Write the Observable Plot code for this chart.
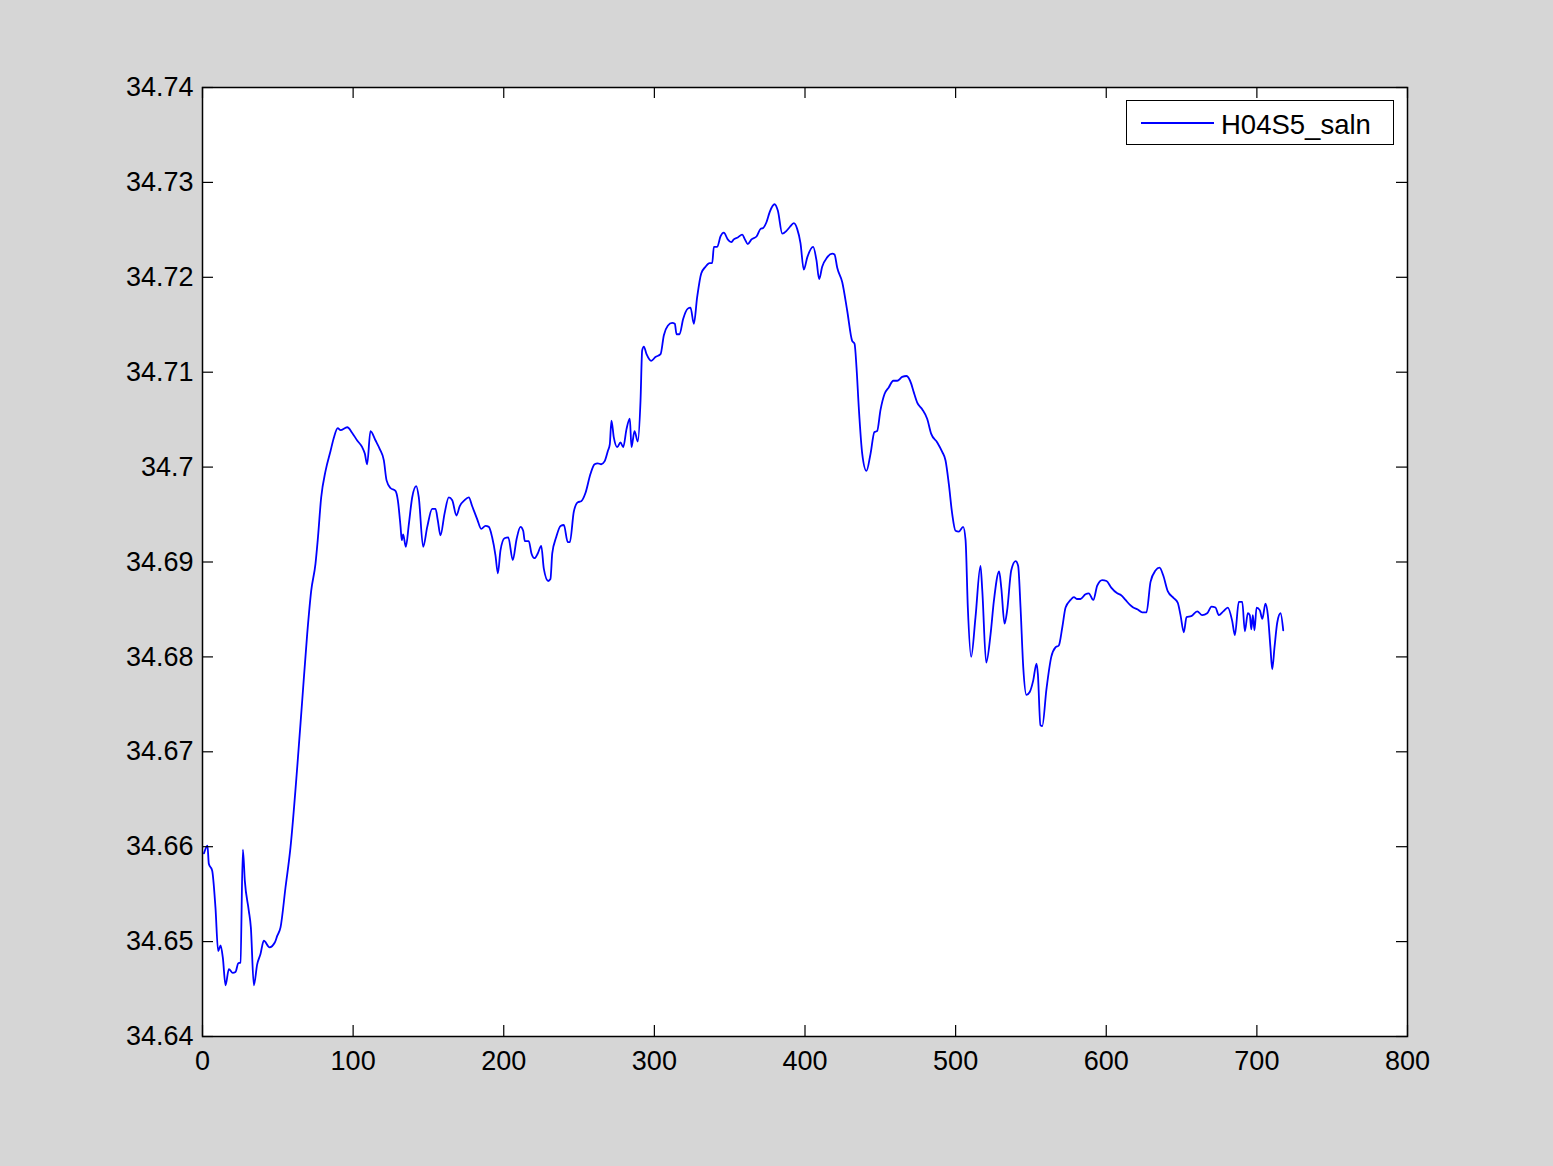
<!DOCTYPE html>
<html>
<head>
<meta charset="utf-8">
<script src="https://cdn.jsdelivr.net/npm/d3@7"></script>
<script src="https://cdn.jsdelivr.net/npm/@observablehq/plot@0.6"></script>
<style>
  html, body { margin: 0; padding: 0; background: #d6d6d6; }
  #wrap { position: relative; width: 1553px; height: 1166px; }
  #legend {
    position: absolute; left: 1126px; top: 100px; width: 266px; height: 43px;
    background: #fff; border: 1.5px solid #000; box-sizing: content-box;
    font-family: "Liberation Sans", Arial, sans-serif; font-size: 27.5px; color: #000;
  }
  #legend svg { position: absolute; left: 14px; top: 20px; }
  #legend span { position: absolute; left: 94px; top: 8px; }
</style>
</head>
<body>
<div id="wrap"></div>
<script>
const seriesName = "H04S5_saln";
const xTicks = [0, 100, 200, 300, 400, 500, 600, 700, 800];
const yTicks = [34.64, 34.65, 34.66, 34.67, 34.68, 34.69, 34.70, 34.71, 34.72, 34.73, 34.74];

const hours = [
  1, 3.3, 4.2, 6.4, 8.6, 10.4, 12, 13.5, 15.3, 17.5,
  20.1, 21.9, 23.7, 25.2, 26.8, 28.1, 30.7, 32.1, 34.1, 36.3,
  38.5, 40.7, 44.5, 48, 49.6, 51.8, 55.1, 58.4, 62.9, 66.2,
  69.5, 72.2, 75, 76.5, 78.8, 81.7, 85, 87.2, 89.8, 91.6,
  96.1, 99.4, 102.7, 106, 107.8, 109.3, 111.5, 114.9, 117.7, 120.4,
  122.2, 124.8, 128.1, 129.7, 131.5, 132.3, 133.2, 135, 137, 139.2,
  141.9, 143.6, 146.5, 149.2, 152.5, 154.7, 156.2, 158, 160.7, 163.5,
  165.8, 168.6, 170.8, 173.9, 176.8, 179, 182.4, 185, 187.9, 190.1,
  192.3, 194.5, 196.1, 197.8, 200.5, 203, 206, 208.5, 211.1, 212.9,
  214, 216.6, 218.4, 220.4, 222.6, 224.9, 226.6, 229.5, 231, 232.2,
  234.8, 237.7, 239.9, 242.5, 243.9, 246.5, 249.2, 251.4, 254.3, 257.6,
  260.3, 262.4, 264.7, 266.9, 269.1, 270.4, 271.5, 273.1, 275.3, 277.5,
  279.3, 281.5, 283.7, 284.8, 286.8, 289, 290.8, 291.9, 293, 294.8,
  297.9, 300.7, 304.1, 306.3, 308.9, 311.8, 313.6, 314.7, 316.7, 319.1,
  322.2, 324, 326.2, 328.4, 331.1, 333.9, 336.6, 338.4, 339.5, 341.7,
  343.9, 346.1, 348.7, 351, 352.7, 355.4, 358.3, 360.1, 362, 364.5,
  367.8, 370.5, 372.2, 374.4, 376.6, 379.8, 382, 384.9, 387.7, 389.9,
  392.6, 394.8, 397, 399.2, 401.5, 405.4, 407.6, 409.4, 411.4, 414.7,
  418.1, 419.6, 421.4, 424.7, 428, 431.3, 432.9, 434.2, 435.7, 438,
  440.8, 443.5, 446.1, 447.9, 450.1, 452.8, 455.6, 458.6, 461.2, 464.5,
  467.4, 470.5, 472.2, 474.5, 477.8, 481.1, 483.8, 487.8, 491.1, 493.3,
  495.5, 497.7, 499.9, 502.1, 505, 506.6, 508.1, 510.3, 513.2, 516.5,
  517.7, 520.3, 523.2, 525.4, 528.9, 530.3, 532.5, 534.2, 536.9, 539.8,
  541.5, 543.1, 544.9, 547, 549.2, 551.5, 553.7, 554.6, 556.3, 557.5,
  560.3, 563.5, 566.3, 568.5, 570.8, 573, 576.3, 578.5, 580.7, 582.9,
  586.2, 588.4, 591.4, 594, 597.3, 600.2, 603.3, 607.3, 609.9, 612.8,
  615.6, 617.9, 620.9, 623.9, 626.7, 629.4, 632.7, 635.4, 637.8, 640.9,
  644.8, 647.5, 649.3, 651.5, 653.3, 656.4, 660.4, 663.7, 667, 669.9,
  672.5, 674.7, 677.7, 680.7, 683.6, 685.4, 688, 690.3, 692, 694,
  695.3, 696.3, 697.3, 698.4, 699.8, 702, 703.6, 705.7, 707.3, 709,
  710.2, 711.7, 713.5, 715.7, 717.5
];

const saln = [
  34.6593, 34.6601, 34.6582, 34.6575, 34.6536, 34.6490, 34.6496, 34.6483, 34.6454, 34.6471,
  34.6467, 34.6468, 34.6477, 34.6478, 34.6597, 34.6564, 34.6533, 34.6515, 34.6454, 34.6476,
  34.6487, 34.6501, 34.6494, 34.6499, 34.6506, 34.6515, 34.6557, 34.6599, 34.6684, 34.6754,
  34.6824, 34.6870, 34.6898, 34.6923, 34.6968, 34.6996, 34.7017, 34.7031, 34.7041, 34.7039,
  34.7042, 34.7036, 34.7028, 34.7021, 34.7014, 34.7003, 34.7038, 34.7028, 34.7019, 34.7007,
  34.6986, 34.6978, 34.6975, 34.6965, 34.6937, 34.6923, 34.6929, 34.6916, 34.6940, 34.6968,
  34.6980, 34.6968, 34.6916, 34.6937, 34.6956, 34.6956, 34.6944, 34.6928, 34.6951, 34.6968,
  34.6965, 34.6949, 34.6959, 34.6965, 34.6968, 34.6959, 34.6945, 34.6935, 34.6938, 34.6937,
  34.6926, 34.6907, 34.6888, 34.6912, 34.6925, 34.6926, 34.6902, 34.6924, 34.6937, 34.6933,
  34.6922, 34.6922, 34.6909, 34.6904, 34.6909, 34.6917, 34.6893, 34.6880, 34.6882, 34.6909,
  34.6926, 34.6938, 34.6939, 34.6921, 34.6921, 34.6953, 34.6963, 34.6964, 34.6973, 34.6993,
  34.7003, 34.7004, 34.7003, 34.7006, 34.7017, 34.7024, 34.7049, 34.7031, 34.7021, 34.7026,
  34.7021, 34.7040, 34.7051, 34.7021, 34.7038, 34.7027, 34.7070, 34.7123, 34.7127, 34.7119,
  34.7112, 34.7116, 34.7119, 34.7139, 34.7149, 34.7152, 34.7151, 34.7140, 34.7140, 34.7156,
  34.7167, 34.7168, 34.7151, 34.7179, 34.7204, 34.7211, 34.7215, 34.7215, 34.7232, 34.7232,
  34.7243, 34.7247, 34.7240, 34.7237, 34.7240, 34.7242, 34.7245, 34.7240, 34.7235, 34.7240,
  34.7243, 34.7251, 34.7252, 34.7258, 34.7269, 34.7277, 34.7270, 34.7246, 34.7249, 34.7253,
  34.7257, 34.7251, 34.7236, 34.7208, 34.7221, 34.7232, 34.7218, 34.7198, 34.7211, 34.7221,
  34.7225, 34.7224, 34.7210, 34.7195, 34.7165, 34.7133, 34.7130, 34.7105, 34.7063, 34.7014,
  34.6996, 34.7014, 34.7037, 34.7038, 34.7060, 34.7077, 34.7084, 34.7091, 34.7091, 34.7095,
  34.7096, 34.7088, 34.7079, 34.7068, 34.7061, 34.7051, 34.7035, 34.7026, 34.7016, 34.7007,
  34.6982, 34.6951, 34.6933, 34.6932, 34.6937, 34.6923, 34.6852, 34.6800, 34.6842, 34.6896,
  34.6870, 34.6794, 34.6824, 34.6859, 34.6890, 34.6873, 34.6835, 34.6849, 34.6891, 34.6901,
  34.6896, 34.6852, 34.6789, 34.6760, 34.6763, 34.6775, 34.6793, 34.6782, 34.6728, 34.6727,
  34.6766, 34.6800, 34.6810, 34.6812, 34.6831, 34.6852, 34.6860, 34.6863, 34.6861, 34.6861,
  34.6866, 34.6867, 34.6860, 34.6875, 34.6881, 34.6880, 34.6873, 34.6867, 34.6865, 34.6860,
  34.6855, 34.6852, 34.6850, 34.6847, 34.6847, 34.6879, 34.6891, 34.6894, 34.6886, 34.6869,
  34.6862, 34.6857, 34.6844, 34.6826, 34.6842, 34.6843, 34.6848, 34.6844, 34.6846, 34.6853,
  34.6852, 34.6844, 34.6848, 34.6852, 34.6838, 34.6823, 34.6858, 34.6858, 34.6827, 34.6846,
  34.6844, 34.6829, 34.6844, 34.6828, 34.6852, 34.6849, 34.6840, 34.6856, 34.6844, 34.6810,
  34.6787, 34.6810, 34.6836, 34.6846, 34.6828
];

const data = hours.map((h, i) => ({hour: h, saln: saln[i]}));
const fmtY = d => String(+d.toFixed(2));

const W = 1553, H = 1166;
const mL = 202, mR = 146, mT = 87, mB = 130;
const plotW = W - mL - mR, plotH = H - mT - mB;
const tickLen = 11;

const chart = Plot.plot({
  width: W, height: H,
  marginLeft: mL, marginRight: mR, marginTop: mT, marginBottom: mB,
  style: {background: "transparent", fontFamily: "'Liberation Sans', Arial, sans-serif", fontSize: "27px", color: "#000", overflow: "visible"},
  x: {domain: [0, 800], ticks: xTicks, label: null},
  y: {domain: [34.64, 34.74], ticks: yTicks, label: null},
  marks: [
    Plot.frame({fill: "white", stroke: null}),
    Plot.line(data, {x: "hour", y: "saln", stroke: "#0000ff", strokeWidth: 1.8, curve: "monotone-x"}),
    Plot.tickX(xTicks, {x: d => d, stroke: "black", strokeWidth: 1.2, insetTop: plotH - tickLen}),
    Plot.tickX(xTicks, {x: d => d, stroke: "black", strokeWidth: 1.2, insetBottom: plotH - tickLen}),
    Plot.tickY(yTicks, {y: d => d, stroke: "black", strokeWidth: 1.2, insetRight: plotW - tickLen}),
    Plot.tickY(yTicks, {y: d => d, stroke: "black", strokeWidth: 1.2, insetLeft: plotW - tickLen}),
    Plot.axisX(xTicks, {anchor: "bottom", tickSize: 0, tickPadding: 14, label: null, fontSize: 27}),
    Plot.axisY(yTicks, {anchor: "left", tickSize: 0, tickPadding: 9, label: null, tickFormat: fmtY, fontSize: 27}),
    Plot.frame({stroke: "black", strokeWidth: 1.5})
  ]
});

const wrap = document.getElementById("wrap");
wrap.appendChild(chart);

const legend = document.createElement("div");
legend.id = "legend";
legend.innerHTML = `<svg width="74" height="4"><line x1="0" y1="2" x2="73" y2="2" stroke="#0000ff" stroke-width="1.8"/></svg><span>${seriesName}</span>`;
wrap.appendChild(legend);
</script>
</body>
</html>
